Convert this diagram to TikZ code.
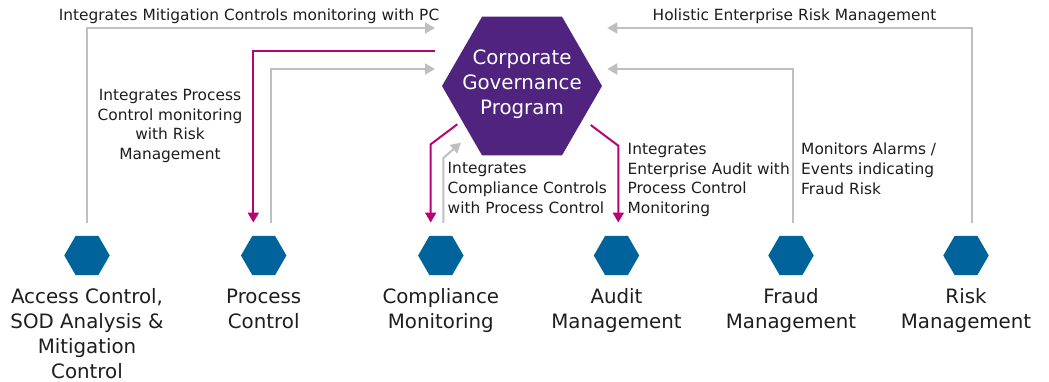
\documentclass[tikz,border=0pt]{standalone}
\usepackage{fontspec}
\setmainfont{DejaVu Sans}
\usetikzlibrary{arrows.meta,shapes.geometric}
\definecolor{cgpurple}{HTML}{50237F}
\definecolor{hexblue}{HTML}{00639B}
\definecolor{linkgray}{HTML}{BEBFC1}
\definecolor{linkmag}{HTML}{B90276}
\definecolor{txt}{HTML}{1E1E1E}
\begin{document}
\begin{tikzpicture}[x=1pt,y=-1pt,
  bighex/.style={regular polygon, regular polygon sides=6, minimum size=160pt, fill=cgpurple, inner sep=0pt, outer sep=0pt},
  smallhex/.style={regular polygon, regular polygon sides=6, minimum size=45.4pt, fill=hexblue, inner sep=0pt, outer sep=0pt},
  hextext/.style={align=center, text=white, font=\fontsize{19.8}{25}\selectfont, inner sep=0pt},
  modlabel/.style={align=center, text=txt, font=\fontsize{19.8}{25}\selectfont, inner sep=0pt, anchor=north},
  note/.style={text=txt, font=\fontsize{15.4}{19.7}\selectfont, inner sep=0pt},
  flow/.style={line width=2pt, -{Triangle[width=11pt,length=10pt]}},
  grayflow/.style={flow, draw=linkgray},
  magflow/.style={flow, draw=linkmag},
]
\useasboundingbox (0,0) rectangle (1049,382);
\fill[white] (0,0) rectangle (1049,382);

% central program
\node[bighex] (cgp) at (522,86) {};
\node[hextext] (cgpt) at (522,84.5) {Corporate\\Governance\\Program};

% modules
\node[smallhex] (acc) at (87,255.5) {};
\node[smallhex] (pc) at (263.7,255.5) {};
\node[smallhex] (cm) at (440.8,255.5) {};
\node[smallhex] (au) at (616.5,255.5) {};
\node[smallhex] (fr) at (791,255.5) {};
\node[smallhex] (rk) at (966,255.5) {};

\node[modlabel] (accl) at (87,288.4) {Access Control,\\SOD Analysis \&\\Mitigation\\Control};
\node[modlabel] (pcl) at (263.7,288.4) {Process\\Control};
\node[modlabel] (cml) at (440.8,288.4) {Compliance\\Monitoring};
\node[modlabel] (aul) at (616.5,288.4) {Audit\\Management};
\node[modlabel] (frl) at (791,288.4) {Fraud\\Management};
\node[modlabel] (rkl) at (966,288.4) {Risk\\Management};

% connector ends
\coordinate (inMit) at (435,28);
\coordinate (outPC) at (435,51);
\coordinate (inPC) at (435,69);
\coordinate (inRk) at (607.3,28);
\coordinate (inFr) at (607.3,69);
\coordinate (outCmA) at (457.3,124.3);
\coordinate (bendCmA) at (430.7,144.3);
\coordinate (bendCmB) at (443.3,158);
\coordinate (inCm) at (461,142.7);
\coordinate (outAu) at (590.7,125);
\coordinate (bendAu) at (618.3,145.7);

% connectors
\draw[grayflow] ([yshift=13pt]acc.north) |- (inMit);
\draw[magflow] (outPC) -| ([xshift=-10.4pt,yshift=13.3pt]pc.north);
\draw[grayflow] ([xshift=7pt,yshift=13pt]pc.north) |- (inPC);
\draw[magflow] (outCmA) -- (bendCmA) -- ([xshift=-10.1pt,yshift=13.3pt]cm.north);
\draw[grayflow] ([xshift=2.5pt,yshift=13pt]cm.north) -- (bendCmB) -- (inCm);
\draw[magflow] (outAu) -- (bendAu) -- ([xshift=1.8pt,yshift=13.3pt]au.north);
\draw[grayflow] ([xshift=2.3pt,yshift=13pt]fr.north) |- (inFr);
\draw[grayflow] ([xshift=5.7pt,yshift=13pt]rk.north) |- (inRk);

% annotations
\node[note, anchor=base] (nMit) at (249,21) {Integrates Mitigation Controls monitoring with PC};
\node[note, anchor=base] (nRk) at (794.5,21) {Holistic Enterprise Risk Management};
\node[note, align=center, anchor=north] (nPC) at (170,89) {Integrates Process\\Control monitoring\\with Risk\\Management};
\node[note, align=left, anchor=north west] (nCm) at (447.5,162.4) {Integrates\\Compliance Controls\\with Process Control};
\node[note, align=left, anchor=north west] (nAu) at (627.5,143) {Integrates\\Enterprise Audit with\\Process Control\\Monitoring};
\node[note, align=left, anchor=north west] (nFr) at (801,143) {Monitors Alarms /\\Events indicating\\Fraud Risk};
\end{tikzpicture}
\end{document}
